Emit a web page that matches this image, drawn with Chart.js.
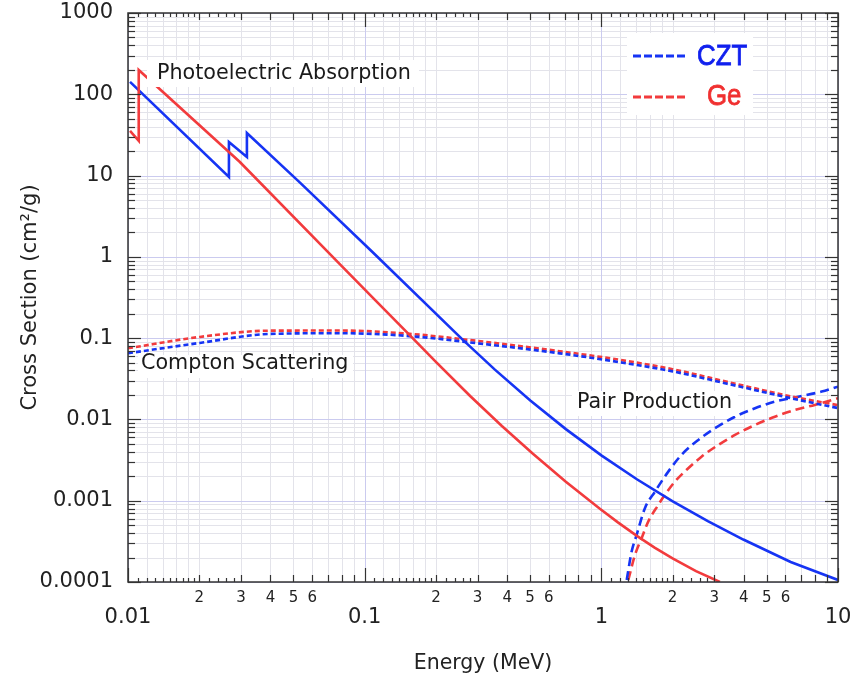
<!DOCTYPE html>
<html><head><meta charset="utf-8">
<script src="https://cdn.jsdelivr.net/npm/chart.js@4.4.1/dist/chart.umd.min.js"></script>
<style>html,body{margin:0;padding:0;background:#fff;}</style>
</head><body>
<canvas id="c" width="856" height="685"></canvas>
<script>
// ---------- data (Energy in MeV, cross section in cm^2/g) ----------
const cztPhotoE = [0.0102, 0.0267, 0.0267, 0.0318, 0.0318, 0.0533, 0.1084, 0.26, 0.355, 0.501, 0.708, 1.0, 1.413, 1.995, 2.818, 3.98, 6.31, 10];
const cztPhotoV = [142, 9.6, 25.9, 16.9, 33.4, 8.2, 1.13, 0.0951, 0.041, 0.0171, 0.0076, 0.00361, 0.001836, 0.000989, 0.000562, 0.000333, 0.000176, 0.000106];

const gePhotoE = [0.0102, 0.0111, 0.0111, 0.0297, 0.0787, 0.1105, 0.155, 0.1995, 0.279, 0.380, 0.514, 0.708, 0.986, 1.175, 1.413, 1.679, 2.0, 2.512, 3.17];
const gePhotoV = [35.4, 26.7, 199, 14.7, 0.81, 0.295, 0.109, 0.0513, 0.0194, 0.0083, 0.00378, 0.00171, 0.000795, 0.000542, 0.00037, 0.000265, 0.000195, 0.000136, 0.0001];

const comptonE   = [0.01, 0.0201, 0.0398, 0.0787, 0.155, 0.26, 0.668, 1.2, 2.0, 3.4, 6.45, 10];
const cztComptonV = [0.0652, 0.0873, 0.1127, 0.115, 0.106, 0.0906, 0.065, 0.0505, 0.039, 0.0275, 0.018, 0.0138];
const geComptonV  = [0.075, 0.1035, 0.1236, 0.124, 0.113, 0.097, 0.069, 0.054, 0.0415, 0.029, 0.019, 0.015];

const cztPairE = [1.28, 1.343, 1.41, 1.528, 1.684, 1.918, 2.18, 2.57, 3.02, 3.67, 4.46, 5.41, 6.79, 8.53, 10];
const cztPairV = [0.000106, 0.000237, 0.00038, 0.00081, 0.00129, 0.00228, 0.00366, 0.0056, 0.0078, 0.0108, 0.01374, 0.01656, 0.01905, 0.022, 0.0253];

const gePairE = [1.30, 1.387, 1.48, 1.578, 1.74, 1.856, 2.047, 2.33, 2.65, 3.12, 3.67, 4.46, 5.41, 6.58, 7.98, 10];
const gePairV = [0.000106, 0.000215, 0.000346, 0.000553, 0.000887, 0.00118, 0.00172, 0.00251, 0.00348, 0.00485, 0.00644, 0.00855, 0.0108, 0.0131, 0.0151, 0.01824];

// ---------- ticks ----------
const xMajorTicks  = [0.01, 0.1, 1, 10];
const xMajorLabels = ['0.01', '0.1', '1', '10'];
const yMajorTicks  = [0.0001, 0.001, 0.01, 0.1, 1, 10, 100, 1000];
const yMajorLabels = ['0.0001', '0.001', '0.01', '0.1', '1', '10', '100', '1000'];
const minorMultipliers = [2, 3, 4, 5, 6, 7, 8, 9];
const xMinorLabelMultipliers = [2, 3, 4, 5, 6];
const xSubTickMultipliers = [1.1, 1.2, 1.3, 1.4, 1.5, 1.6, 1.7, 1.8, 1.9, 2.2, 2.4, 2.6, 2.8];
const xSubGridMultipliers = [1.2, 1.4, 1.6, 1.8];

const seriesNames = ['CZT', 'Ge'];
const regionLabels = ['Photoelectric Absorption', 'Compton Scattering', 'Pair Production'];

// ---------- style ----------
const FONT = "'DejaVu Sans', 'Open Sans', sans-serif";
const BLUE = '#1634f4';
const RED = '#f23b3d';
const MINOR_GRID = '#e3e3ea';
const MAJOR_GRID = '#cbcbef';
const AXIS = '#333';

const near = (a, b) => Math.abs(a - b) / b < 1e-7;
const decadesOf = ticks => ticks.slice(0, -1);
const expand = (decs, mults) => decs.flatMap(d => mults.map(m => +(d * m).toPrecision(6)));

const xMinorVals = expand(decadesOf(xMajorTicks), minorMultipliers);
const yMinorVals = expand(decadesOf(yMajorTicks), minorMultipliers);
const xSubTickVals = expand(decadesOf(xMajorTicks), xSubTickMultipliers);
const xSubGridVals = expand(decadesOf(xMajorTicks), xSubGridMultipliers);

const pts = (E, V) => E.map((e, i) => ({x: e, y: V[i]}));
const mantissa = v => +(v / Math.pow(10, Math.floor(Math.log10(v) + 1e-9))).toPrecision(4);

function line(ctx, x1, y1, x2, y2) { ctx.beginPath(); ctx.moveTo(x1, y1); ctx.lineTo(x2, y2); ctx.stroke(); }

const decor = {
  id: 'decor',
  beforeDatasetsDraw(chart) {
    const {ctx, chartArea: a, scales: {x, y}} = chart;
    ctx.save();
    ctx.lineWidth = 1;
    ctx.strokeStyle = MINOR_GRID;
    xMinorVals.concat(xSubGridVals).forEach(v => { const p = Math.round(x.getPixelForValue(v)) + 0.5; line(ctx, p, a.top, p, a.bottom); });
    yMinorVals.forEach(v => { const p = Math.round(y.getPixelForValue(v)) + 0.5; line(ctx, a.left, p, a.right, p); });
    ctx.strokeStyle = MAJOR_GRID;
    xMajorTicks.forEach(v => { const p = Math.round(x.getPixelForValue(v)) + 0.5; line(ctx, p, a.top, p, a.bottom); });
    yMajorTicks.forEach(v => { const p = Math.round(y.getPixelForValue(v)) + 0.5; line(ctx, a.left, p, a.right, p); });
    ctx.restore();
  },
  afterDatasetsDraw(chart) {
    const {ctx, chartArea: a, scales: {x, y}} = chart;
    ctx.save();
    // region labels with white boxes
    const boxes = [
      {t: regionLabels[0], bx: 147, by: 60, bw: 272, bh: 27, tx: 157, ty: 74},
      {t: regionLabels[1], bx: 138, by: 355, bw: 215, bh: 23, tx: 141, ty: 364},
      {t: regionLabels[2], bx: 572, by: 391, bw: 166, bh: 25, tx: 577, ty: 403}
    ];
    ctx.font = '20.7px ' + FONT;
    ctx.textBaseline = 'middle';
    ctx.textAlign = 'left';
    boxes.forEach(b => {
      ctx.fillStyle = '#fff';
      ctx.fillRect(b.bx, b.by, b.bw, b.bh);
      ctx.fillStyle = '#1a1a1a';
      ctx.fillText(b.t, b.tx, b.ty);
    });
    // legend
    ctx.fillStyle = '#fff';
    ctx.fillRect(627, 33, 126, 82);
    ctx.lineWidth = 3;
    ctx.setLineDash([8, 3]);
    ctx.strokeStyle = BLUE; line(ctx, 633, 56, 687, 56);
    ctx.strokeStyle = RED; line(ctx, 633, 97, 687, 97);
    ctx.setLineDash([]);
    ctx.font = "30px 'Liberation Sans Narrow', 'Liberation Sans', sans-serif";
    const drawNarrow = (txt, x0, y0, col) => {
      ctx.save(); ctx.translate(x0, y0); ctx.scale(0.86, 1);
      ctx.fillStyle = col; ctx.strokeStyle = col; ctx.lineWidth = 0.8;
      ctx.fillText(txt, 0, 0); ctx.strokeText(txt, 0, 0);
      ctx.restore();
    };
    drawNarrow(seriesNames[0], 697, 57, '#1020ee');
    drawNarrow(seriesNames[1], 707, 97, '#f03030');
    // frame
    ctx.strokeStyle = AXIS;
    ctx.lineWidth = 1.5;
    ctx.strokeRect(a.left, a.top, a.right - a.left, a.bottom - a.top);
    // tick marks (inward, all four sides)
    ctx.lineWidth = 1.2;
    const xt = (vals, len) => vals.forEach(v => {
      const p = Math.round(x.getPixelForValue(v)) + 0.5;
      line(ctx, p, a.bottom, p, a.bottom - len);
      line(ctx, p, a.top, p, a.top + len);
    });
    const yt = (vals, len) => vals.forEach(v => {
      const p = Math.round(y.getPixelForValue(v)) + 0.5;
      line(ctx, a.left, p, a.left + len, p);
      line(ctx, a.right, p, a.right - len, p);
    });
    xt(xSubTickVals, 4); xt(xMinorVals, 7); xt(xMajorTicks, 14);
    yt(yMinorVals, 7); yt(yMajorTicks, 13);
    ctx.restore();
  }
};

const lineDs = (label, data, color, extra) => Object.assign({
  label, data, borderColor: color, backgroundColor: color, borderWidth: 2.6,
  pointRadius: 0, showLine: true, tension: 0, fill: false
}, extra || {});

new Chart(document.getElementById('c'), {
  type: 'scatter',
  data: {
    datasets: [
      lineDs('Ge photoelectric', pts(gePhotoE, gePhotoV), RED),
      lineDs('CZT photoelectric', pts(cztPhotoE, cztPhotoV), BLUE),
      lineDs('CZT Compton', pts(comptonE, cztComptonV), BLUE, {borderDash: [5, 3], cubicInterpolationMode: 'monotone'}),
      lineDs('Ge Compton', pts(comptonE, geComptonV), RED, {borderDash: [5, 3], cubicInterpolationMode: 'monotone'}),
      lineDs('CZT pair', pts(cztPairE, cztPairV), BLUE, {borderDash: [9, 5], cubicInterpolationMode: 'monotone'}),
      lineDs('Ge pair', pts(gePairE, gePairV), RED, {borderDash: [9, 5], cubicInterpolationMode: 'monotone'})
    ]
  },
  options: {
    responsive: false,
    devicePixelRatio: 1,
    animation: false,
    layout: {padding: 0},
    plugins: {legend: {display: false}, tooltip: {enabled: false}},
    scales: {
      x: {
        type: 'logarithmic', min: 0.01, max: 10,
        grid: {display: false, drawTicks: false},
        border: {display: false},
        afterBuildTicks: s => {
          s.ticks = xMajorTicks.map(v => ({value: v, major: true}))
            .concat(xMinorVals.map(v => ({value: v, major: false})))
            .sort((p, q) => p.value - q.value);
        },
        afterFit: s => { s.height = 103; s.paddingLeft = 0; s.paddingRight = 18; },
        ticks: {
          autoSkip: false, maxRotation: 0, minRotation: 0, padding: 7, color: '#222',
          font: ctx => (ctx.tick && xMajorTicks.some(v => near(ctx.tick.value, v)))
            ? {family: FONT, size: 21, lineHeight: 0.9}
            : {family: FONT, size: 15, lineHeight: 1.2},
          callback: value => {
            const i = xMajorTicks.findIndex(v => near(value, v));
            if (i >= 0) return ['', xMajorLabels[i]];
            const m = mantissa(value);
            return xMinorLabelMultipliers.includes(m) ? String(m) : '';
          }
        },
        title: {display: true, text: 'Energy (MeV)', color: '#222',
          font: {family: FONT, size: 20.5}, padding: {top: 0, bottom: 9}}
      },
      y: {
        type: 'logarithmic', min: 0.0001, max: 1000,
        grid: {display: false, drawTicks: false},
        border: {display: false},
        afterBuildTicks: s => {
          s.ticks = yMajorTicks.map(v => ({value: v, major: true}))
            .concat(yMinorVals.map(v => ({value: v, major: false})))
            .sort((p, q) => p.value - q.value);
        },
        afterFit: s => { s.width = 128; s.paddingTop = 13; s.paddingBottom = 0; },
        ticks: {
          autoSkip: false, padding: 15, color: '#222',
          font: {family: FONT, size: 21},
          callback: value => {
            const i = yMajorTicks.findIndex(v => near(value, v));
            return i >= 0 ? yMajorLabels[i] : '';
          }
        },
        title: {display: true, text: 'Cross Section (cm²/g)', color: '#222',
          font: {family: FONT, size: 21}, padding: {top: 18, bottom: 0}}
      }
    }
  },
  plugins: [decor]
});
</script>
</body></html>
